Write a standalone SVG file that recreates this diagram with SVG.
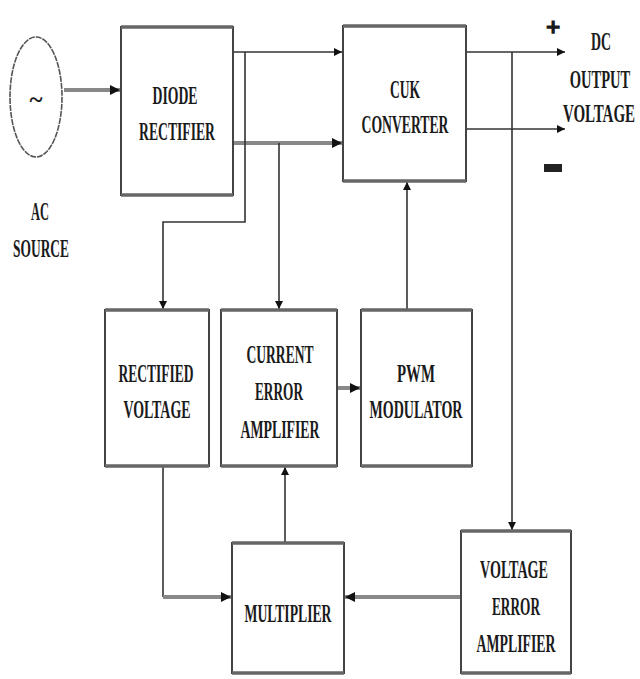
<svg xmlns="http://www.w3.org/2000/svg" width="640" height="679" viewBox="0 0 640 679">
<style>
.box{fill:#fff;stroke:#444;stroke-width:2}
.edge{stroke:#666;stroke-width:3.5}
.t{font-family:"Liberation Serif","Times New Roman",serif;font-weight:bold;font-size:25px;fill:#1a1a1a;text-anchor:middle}
.c{fill:none;stroke:#333;stroke-width:1.6}
.cw{fill:none;stroke:#888;stroke-width:4}
</style>
<defs>
<marker id="ah" viewBox="0 0 10 10" refX="10" refY="5" markerWidth="8" markerHeight="8" markerUnits="userSpaceOnUse" orient="auto">
<path d="M0,0 L10,5 L0,10 z" fill="#111"/>
</marker>
<marker id="ahw" viewBox="0 0 10 10" refX="10" refY="5" markerWidth="2.5" markerHeight="2.5" orient="auto">
<path d="M0,0 L10,5 L0,10 z" fill="#111"/>
</marker>
</defs>
<rect width="640" height="679" fill="#fff"/>

<g id="connectors">
<path class="cw" d="M64,90 H120" marker-end="url(#ahw)"/>
<path class="c" d="M233,52 H342" marker-end="url(#ah)"/>
<path class="cw" d="M233,143 H342" marker-end="url(#ahw)"/>
<path class="c" d="M245,52 V222 H163 V309" marker-end="url(#ah)"/>
<path class="c" d="M279,143 V309" marker-end="url(#ah)"/>
<path class="c" d="M466,52 H565" marker-end="url(#ah)"/>
<path class="c" d="M466,129 H565" marker-end="url(#ah)"/>
<path class="c" d="M512,52 V530" marker-end="url(#ah)"/>
<path class="c" d="M407,310 V182" marker-end="url(#ah)"/>
<path class="cw" d="M337,388 H360" marker-end="url(#ahw)"/>
<path class="c" d="M285,543 V467" marker-end="url(#ah)"/>
<path class="c" d="M163,466 V597"/>
<path class="cw" d="M163,597 H231" marker-end="url(#ahw)"/>
<path class="cw" d="M461,597 H345" marker-end="url(#ahw)"/>
</g>

<g id="ac-source">
<ellipse cx="36" cy="97" rx="26" ry="60" fill="#fff" stroke="#555" stroke-width="1.6" stroke-dasharray="6,1"/>
<text class="t" x="36" y="108" font-size="34">~</text>
<text class="t" x="40" y="220" textLength="18" lengthAdjust="spacingAndGlyphs">AC</text>
<text class="t" x="41" y="257" textLength="56" lengthAdjust="spacingAndGlyphs">SOURCE</text>
</g>

<g id="diode-rectifier">
<rect class="box" x="121" y="27" width="112" height="168"/>
<line class="edge" x1="121" y1="27" x2="233" y2="27"/>
<line class="edge" x1="121" y1="195" x2="233" y2="195"/>
<text class="t" x="175" y="104" textLength="45" lengthAdjust="spacingAndGlyphs">DIODE</text>
<text class="t" x="177" y="140" textLength="76" lengthAdjust="spacingAndGlyphs">RECTIFIER</text>
</g>

<g id="cuk-converter">
<rect class="box" x="343" y="26" width="123" height="155"/>
<line class="edge" x1="343" y1="26" x2="466" y2="26"/>
<line class="edge" x1="343" y1="181" x2="466" y2="181"/>
<text class="t" x="405" y="98" textLength="30" lengthAdjust="spacingAndGlyphs">CUK</text>
<text class="t" x="405" y="133" textLength="87" lengthAdjust="spacingAndGlyphs">CONVERTER</text>
</g>

<g id="dc-output">
<text class="t" x="553" y="36" font-size="44" stroke="#1a1a1a" stroke-width="1.5">+</text>
<rect x="544" y="164" width="18" height="8" fill="#222"/>
<text class="t" x="601" y="50" textLength="20" lengthAdjust="spacingAndGlyphs">DC</text>
<text class="t" transform="translate(600,88) scale(0.58,1)">OUTPUT</text>
<text class="t" transform="translate(599,122) scale(0.6,1)">VOLTAGE</text>
</g>

<g id="rectified-voltage">
<rect class="box" x="105" y="310" width="104" height="156"/>
<line class="edge" x1="105" y1="310" x2="209" y2="310"/>
<line class="edge" x1="105" y1="466" x2="209" y2="466"/>
<text class="t" x="156" y="382" textLength="75" lengthAdjust="spacingAndGlyphs">RECTIFIED</text>
<text class="t" x="157" y="418" textLength="67" lengthAdjust="spacingAndGlyphs">VOLTAGE</text>
</g>

<g id="current-error-amplifier">
<rect class="box" x="221" y="310" width="116" height="156"/>
<line class="edge" x1="221" y1="310" x2="337" y2="310"/>
<line class="edge" x1="221" y1="466" x2="337" y2="466"/>
<text class="t" x="280" y="363" textLength="67" lengthAdjust="spacingAndGlyphs">CURRENT</text>
<text class="t" x="279" y="400" textLength="48" lengthAdjust="spacingAndGlyphs">ERROR</text>
<text class="t" x="280" y="438" textLength="79" lengthAdjust="spacingAndGlyphs">AMPLIFIER</text>
</g>

<g id="pwm-modulator">
<rect class="box" x="361" y="310" width="111" height="156"/>
<line class="edge" x1="361" y1="310" x2="472" y2="310"/>
<line class="edge" x1="361" y1="466" x2="472" y2="466"/>
<text class="t" x="416" y="382" textLength="38" lengthAdjust="spacingAndGlyphs">PWM</text>
<text class="t" x="416" y="418" textLength="93" lengthAdjust="spacingAndGlyphs">MODULATOR</text>
</g>

<g id="multiplier">
<rect class="box" x="232" y="543" width="112" height="130"/>
<line class="edge" x1="232" y1="543" x2="344" y2="543"/>
<line class="edge" x1="232" y1="673" x2="344" y2="673"/>
<text class="t" x="288" y="622" textLength="87" lengthAdjust="spacingAndGlyphs">MULTIPLIER</text>
</g>

<g id="voltage-error-amplifier">
<rect class="box" x="461" y="531" width="110" height="142"/>
<line class="edge" x1="461" y1="531" x2="571" y2="531"/>
<line class="edge" x1="461" y1="673" x2="571" y2="673"/>
<text class="t" x="514" y="578" textLength="68" lengthAdjust="spacingAndGlyphs">VOLTAGE</text>
<text class="t" x="516" y="615" textLength="48" lengthAdjust="spacingAndGlyphs">ERROR</text>
<text class="t" x="516" y="652" textLength="79" lengthAdjust="spacingAndGlyphs">AMPLIFIER</text>
</g>
</svg>
